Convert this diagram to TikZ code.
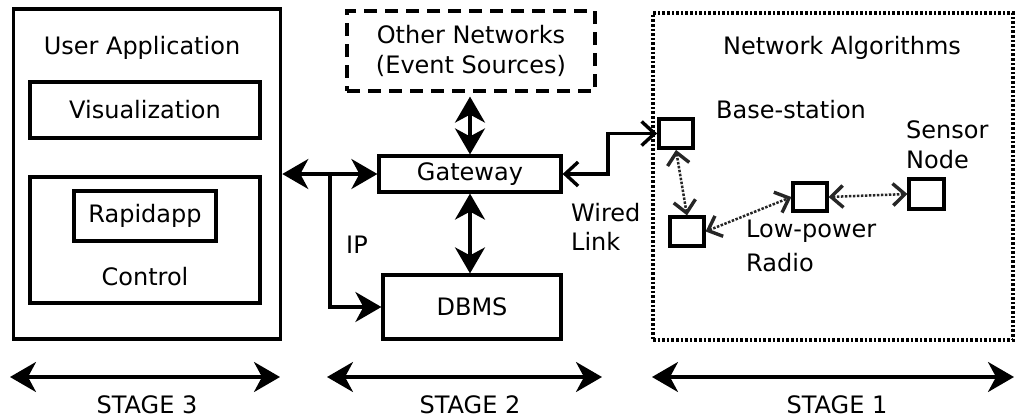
\documentclass[tikz,border=0pt]{standalone}
\usepackage{fontspec}
\setmainfont{DejaVu Sans}
\usetikzlibrary{arrows.meta}
\begin{document}
\begin{tikzpicture}[x=1pt,y=-1pt,
  every node/.style={font=\fontsize{24}{30}\selectfont, inner sep=0pt},
  box/.style={draw, line width=3.2pt, align=center},
  bigarrow/.style={line width=3.2pt, {Stealth[length=26pt,width=30pt,inset=8pt]}-{Stealth[length=26pt,width=30pt,inset=8pt]}},
  onearrow/.style={line width=3.2pt, -{Stealth[length=26pt,width=30pt,inset=8pt]}},
  wired/.style={line width=3.2pt, sharp corners, {Straight Barb[length=13pt,width=24pt,line width=3.4pt]}-{Straight Barb[length=13pt,width=24pt,line width=3.4pt]}},
  wireless/.style={line width=2.5pt, black!85, dash pattern=on 2.5pt off 1.5pt, {Straight Barb[length=12pt,width=22pt,line width=3.4pt]}-{Straight Barb[length=12pt,width=22pt,line width=3.4pt]}},
  sensor/.style={draw, line width=3.2pt, minimum width=34pt, minimum height=29pt},
  lbl/.style={anchor=west}
]
\useasboundingbox (0,0) rectangle (1017,418);

% Stage 3: user application
\node[draw, line width=3.6pt, minimum width=267pt, minimum height=330pt] (app) at (147,174) {};
\node (apptitle) at (142,48) {User Application};
\node[box, minimum width=230pt, minimum height=56pt] (vis) at (145,110) {Visualization};
\node[box, minimum width=230pt, minimum height=126pt] (ctrl) at (145,240) {};
\node[box, minimum width=142pt, minimum height=50pt] (rapid) at (145,216) {Rapidapp};
\node (ctrltext) at (145,277) {Control};

% Stage 2
\node[draw, line width=3.2pt, dash pattern=on 13pt off 8pt, minimum width=248pt, minimum height=80pt, align=center] (other) at (471,51) {Other Networks\\(Event Sources)};
\node[box, minimum width=182pt, minimum height=36pt] (gw) at (470,174) {Gateway};
\node[box, minimum width=178pt, minimum height=64pt] (dbms) at (472,307) {DBMS};
\node (ip) at (357,245) {IP};
\node[lbl] (wired) at (571,213) {Wired};
\node[lbl] (link) at (571,241) {Link};

% Stage 1
\node[draw, line width=3.2pt, dash pattern=on 2.6pt off 2pt, minimum width=360pt, minimum height=327pt] (net) at (833,176.5) {};
\node (nettitle) at (842,48) {Network Algorithms};
\node[sensor, line width=3.8pt] (bs) at (676,133.5) {};
\node[sensor] (n2) at (687,231.5) {};
\node[sensor, minimum height=28pt] (n3) at (810,197) {};
\node[sensor, minimum width=35pt, minimum height=30pt] (n4) at (926.5,194) {};
\node[lbl] (bslabel) at (716,110) {Base-station};
\node[lbl] (sensorl) at (906,130) {Sensor};
\node[lbl] (nodel) at (906,160) {Node};
\node[lbl] (lowp) at (746,231) {Low-power};
\node[lbl] (radio) at (746,263) {Radio};

% connectors stage 2
\coordinate (br) at (330,174);
\draw[bigarrow] (app.east |- gw.west) -- (gw.west);
\draw[onearrow] (br) |- (dbms.west);
\draw[bigarrow, shorten <=4pt] (other.south -| gw.north) -- (gw.north);
\draw[bigarrow] (gw.south) -- (gw.south |- dbms.north);
\coordinate (wc) at (608,133.5);
\draw[wired] (gw.east) -| (wc) -- (bs.west);

% wireless links
\draw[wireless] (bs.south) -- (n2.north);
\draw[wireless] (n2.east) -- (n3.west);
\draw[wireless] (n3.east) -- (n4.west);

% stages
\coordinate (s3l) at (10,377); \coordinate (s3r) at (280,377);
\coordinate (s2l) at (327,377); \coordinate (s2r) at (602,377);
\coordinate (s1l) at (652,377); \coordinate (s1r) at (1014,377);
\draw[bigarrow] (s3l) -- (s3r);
\draw[bigarrow] (s2l) -- (s2r);
\draw[bigarrow] (s1l) -- (s1r);
\node (st3) at (147,405) {STAGE 3};
\node (st2) at (470,405) {STAGE 2};
\node (st1) at (837,405) {STAGE 1};
\end{tikzpicture}
\end{document}
